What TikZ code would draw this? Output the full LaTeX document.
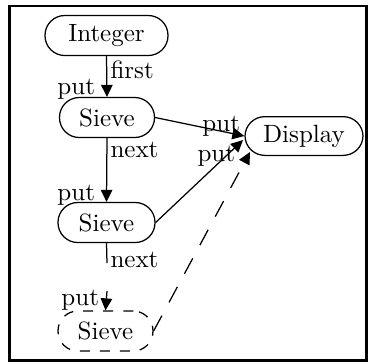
\documentclass[tikz,border=0pt]{standalone}
\usetikzlibrary{arrows.meta}
\begin{document}
\begin{tikzpicture}[x=0.4pt,y=-0.4pt,
  proc/.style={draw, line width=0.5pt, rounded corners=7.9pt, minimum height=16pt, inner sep=0pt},
  conn/.style={line width=0.5pt},
  arr/.style={conn,-{Triangle[length=4.8pt,width=4.6pt]}},
  lab/.style={inner sep=0pt, anchor=base west}]
\useasboundingbox (0,0) rectangle (368,363);
\draw[line width=0.9pt] (9.5,6) rectangle (366.5,360.5);
% nodes
\node[proc, minimum width=49.2pt] (int) at (106.5,35.5) {Integer};
\node[proc, minimum width=38pt] (s1) at (107,117.5) {Sieve};
\node[proc, minimum width=38.8pt] (s2) at (106.5,222.5) {Sieve};
\node[proc, minimum width=38pt, dash pattern=on 4pt off 4pt] (s3) at (105.5,331) {Sieve};
\node[proc, minimum width=47.2pt, minimum height=15.5pt] (d) at (304,136) {Display};
% free ends
\coordinate (n2) at (107,263);
\coordinate (p3) at (107,291);
\coordinate (d2) at (243,140);
\coordinate (d3) at (250,152);
% connectors
\draw[arr] (int.south) -- (s1.north);
\draw[arr] (s1.south) -- (s2.north);
\draw[conn] (s2.south) -- (n2);
\draw[arr] (p3) -- (s3.north);
\draw[arr] (s1.east) -- (d.west);
\draw[arr] (s2.east) -- (d2);
\draw[arr, dash pattern=on 7pt off 6pt] (s3.east) -- (d3);
% labels
\node[lab] at (110,78) {first};
\node[lab] at (57,94) {put};
\node[lab] at (110,157) {next};
\node[lab] at (57,200) {put};
\node[lab] at (110,267) {next};
\node[lab] at (61,305) {put};
\node[lab] at (202,131) {put};
\node[lab] at (197,161) {put};
\end{tikzpicture}
\end{document}
